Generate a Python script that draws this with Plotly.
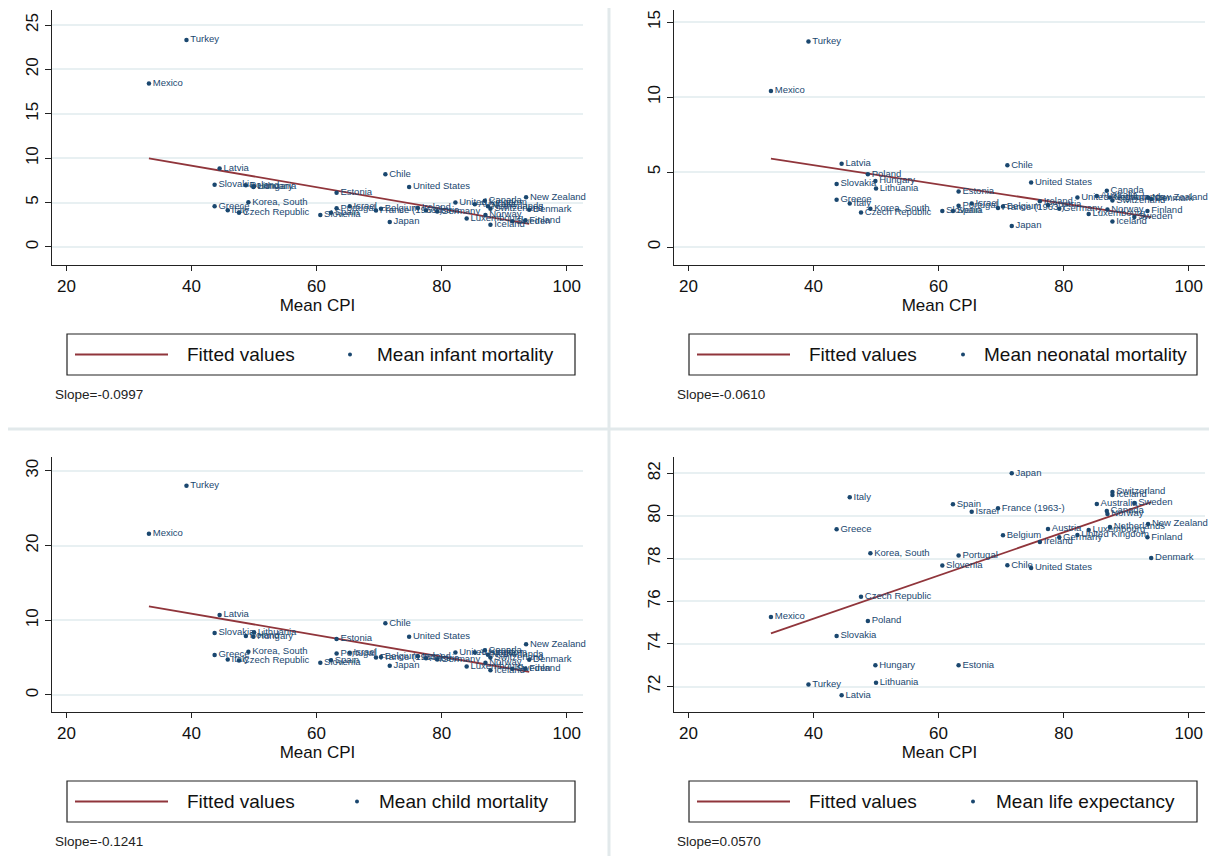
import plotly.graph_objects as go
import numpy as np

countries = ["Turkey", "Mexico", "Latvia", "Slovakia", "Greece", "Italy", "Czech Republic",
             "Korea, South", "Poland", "Hungary", "Lithuania", "Slovenia", "Spain", "Portugal",
             "Estonia", "Israel", "France (1963-)", "Belgium", "Chile", "Japan", "United States",
             "Ireland", "Austria", "Germany", "United Kingdom", "Luxembourg", "Australia", "Canada",
             "Norway", "Netherlands", "Switzerland", "Iceland", "Sweden", "Finland", "New Zealand",
             "Denmark"]
cpi = [39.2, 33.2, 44.5, 43.7, 43.7, 45.8, 47.6, 49.1, 48.7, 49.9, 50.0, 60.6, 62.3, 63.2,
       63.2, 65.3, 69.5, 70.3, 71.0, 71.7, 74.8, 76.2, 77.5, 79.3, 82.2, 84.0, 85.3, 86.9,
       87.0, 87.4, 87.8, 87.8, 91.3, 93.4, 93.5, 94.0]
infant = [23.3, 18.4, 8.85, 7.0, 4.6, 4.15, 3.85, 5.05, 6.95, 6.75, 6.85, 3.6, 3.85, 4.35,
          6.1, 4.6, 4.1, 4.3, 8.2, 2.8, 6.75, 4.4, 4.1, 4.0, 5.0, 3.2, 4.8, 5.2,
          3.6, 4.6, 4.3, 2.5, 2.9, 3.0, 5.6, 4.2]
neonatal = [13.7, 10.4, 5.55, 4.2, 3.15, 2.9, 2.3, 2.55, 4.85, 4.4, 3.9, 2.4, 2.4, 2.75,
            3.7, 2.9, 2.6, 2.7, 5.45, 1.4, 4.3, 3.05, 2.8, 2.55, 3.3, 2.2, 3.4, 3.75,
            2.5, 3.3, 3.1, 1.7, 2.0, 2.4, 3.3, 3.2]
child = [28.0, 21.6, 10.7, 8.3, 5.35, 4.75, 4.6, 5.8, 7.9, 7.8, 8.4, 4.3, 4.65, 5.55,
         7.5, 5.65, 5.0, 5.1, 9.6, 3.9, 7.8, 5.2, 4.9, 4.75, 5.7, 3.8, 5.7, 6.0,
         4.3, 5.4, 5.0, 3.3, 3.5, 3.5, 6.8, 4.7]
life = [72.1, 75.26, 71.6, 74.37, 79.37, 80.87, 76.21, 78.25, 75.08, 73.0, 72.18, 77.67, 80.55, 78.14,
        73.0, 80.2, 80.36, 79.09, 77.69, 82.0, 77.56, 78.78, 79.39, 79.0, 79.1, 79.34, 80.56, 80.23,
        80.09, 79.48, 81.12, 80.98, 80.6, 79.0, 79.62, 78.03]

x_ticks = [20, 40, 60, 80, 100]
series_names = ["Mean infant mortality", "Mean neonatal mortality",
                "Mean child mortality", "Mean life expectancy"]
slope_texts = ["Slope=-0.0997", "Slope=-0.0610", "Slope=-0.1241", "Slope=0.0570"]
y_ticks = [[0, 5, 10, 15, 20, 25], [0, 5, 10, 15], [0, 10, 20, 30], [72, 74, 76, 78, 80, 82]]

W, H = 1217, 856
OFF = 8  # page body margin

def fx(p):
    return (p - OFF) / W

def fy(p):
    return 1 - (p - OFF) / H

NAVY = "#1a476f"
RED = "#90353b"
GRID = "#E8F0F2"
FONT = "Liberation Sans, Arial, sans-serif"

panels = [
    dict(y=infant, col=0, row=0, yr=[-2.03, 26.69], dot=350, txt=375),
    dict(y=neonatal, col=1, row=0, yr=[-1.2, 15.8], dot=963, txt=982),
    dict(y=child, col=0, row=1, yr=[-2.28, 31.86], dot=357, txt=377),
    dict(y=life, col=1, row=1, yr=[70.81, 82.76], dot=973, txt=994),
]

fig = go.Figure()
shapes = []
annotations = []
xo = [0, 622]
yo = [0, 447]

for i, p in enumerate(panels):
    ox = xo[p["col"]]
    oy = yo[p["row"]]
    n = i + 1
    xa = "x" if n == 1 else f"x{n}"
    ya = "y" if n == 1 else f"y{n}"
    xs = np.array(cpi)
    ys = np.array(p["y"])
    b, a = np.polyfit(xs, ys, 1)
    fx_line = [xs.min(), xs.max()]
    fy_line = [a + b * v for v in fx_line]
    fig.add_trace(go.Scatter(x=fx_line, y=fy_line, mode="lines",
                             line=dict(color=RED, width=1.8), name="Fitted values",
                             showlegend=False, xaxis=xa, yaxis=ya, hoverinfo="skip"))
    fig.add_trace(go.Scatter(x=cpi, y=p["y"], mode="markers+text", text=countries,
                             textposition="middle right",
                             textfont=dict(size=9.5, color=NAVY, family=FONT),
                             marker=dict(size=4.5, color=NAVY), name=series_names[i],
                             showlegend=False, cliponaxis=False, xaxis=xa, yaxis=ya))
    xdom = [fx(52 + ox), fx(583 + ox)]
    ydom = [fy(265 + oy), fy(10 + oy)]
    xkey = "xaxis" if n == 1 else f"xaxis{n}"
    ykey = "yaxis" if n == 1 else f"yaxis{n}"
    fig.layout[xkey] = dict(domain=xdom, range=[17.7, 102.6], anchor=ya,
                            tickvals=x_ticks, ticks="outside", ticklen=5, tickwidth=1.2,
                            tickcolor="#222", showline=True, linecolor="#222", linewidth=1.2,
                            showgrid=False, zeroline=False,
                            tickfont=dict(size=17, family=FONT, color="#111"),
                            title=dict(text="Mean CPI", font=dict(size=17, family=FONT, color="#111"),
                                       standoff=4))
    fig.layout[ykey] = dict(domain=ydom, range=p["yr"], anchor=xa,
                            tickvals=y_ticks[i], ticks="outside", ticklen=6, tickwidth=1.2,
                            tickcolor="#222", showline=True, linecolor="#222", linewidth=1.2,
                            showgrid=True, gridcolor=GRID, gridwidth=2, zeroline=False,
                            tickangle=-90,
                            tickfont=dict(size=17, family=FONT, color="#111"))
    # legend box
    lx0, lx1 = 67 + ox, 575 + ox
    ly0, ly1 = 334 + oy, 375 + oy
    ym = (ly0 + ly1) / 2
    shapes.append(dict(type="rect", xref="paper", yref="paper", x0=fx(lx0), x1=fx(lx1),
                       y0=fy(ly1), y1=fy(ly0), line=dict(color="#222", width=1.2),
                       fillcolor="white", layer="above"))
    shapes.append(dict(type="line", xref="paper", yref="paper", x0=fx(75 + ox), x1=fx(168 + ox),
                       y0=fy(ym), y1=fy(ym), line=dict(color=RED, width=1.8)))
    shapes.append(dict(type="circle", xref="paper", yref="paper",
                       x0=fx(p["dot"] - 2), x1=fx(p["dot"] + 2), y0=fy(ym + 2), y1=fy(ym - 2),
                       fillcolor=NAVY, line=dict(color=NAVY, width=0)))
    annotations.append(dict(xref="paper", yref="paper", x=fx(185 + ox), y=fy(ym), text="Fitted values",
                            showarrow=False, xanchor="left", yanchor="middle",
                            font=dict(size=19, family=FONT, color="#111")))
    annotations.append(dict(xref="paper", yref="paper", x=fx(p["txt"]), y=fy(ym), text=series_names[i],
                            showarrow=False, xanchor="left", yanchor="middle",
                            font=dict(size=19, family=FONT, color="#111")))
    annotations.append(dict(xref="paper", yref="paper", x=fx(53 + ox), y=fy(394 + oy), text=slope_texts[i],
                            showarrow=False, xanchor="left", yanchor="middle",
                            font=dict(size=13.5, family=FONT, color="#222")))

# panel separators
shapes.append(dict(type="line", xref="paper", yref="paper", x0=fx(609), x1=fx(609), y0=0, y1=fy(0),
                   line=dict(color="#E2E9EB", width=3), layer="below"))
shapes.append(dict(type="line", xref="paper", yref="paper", x0=fx(0), x1=1, y0=fy(429), y1=fy(429),
                   line=dict(color="#E2E9EB", width=3), layer="below"))

fig.update_layout(width=W, height=H, margin=dict(l=0, r=0, t=0, b=0),
                  paper_bgcolor="white", plot_bgcolor="white", showlegend=False,
                  shapes=shapes, annotations=annotations,
                  font=dict(family=FONT))
fig.write_html("out.html")
